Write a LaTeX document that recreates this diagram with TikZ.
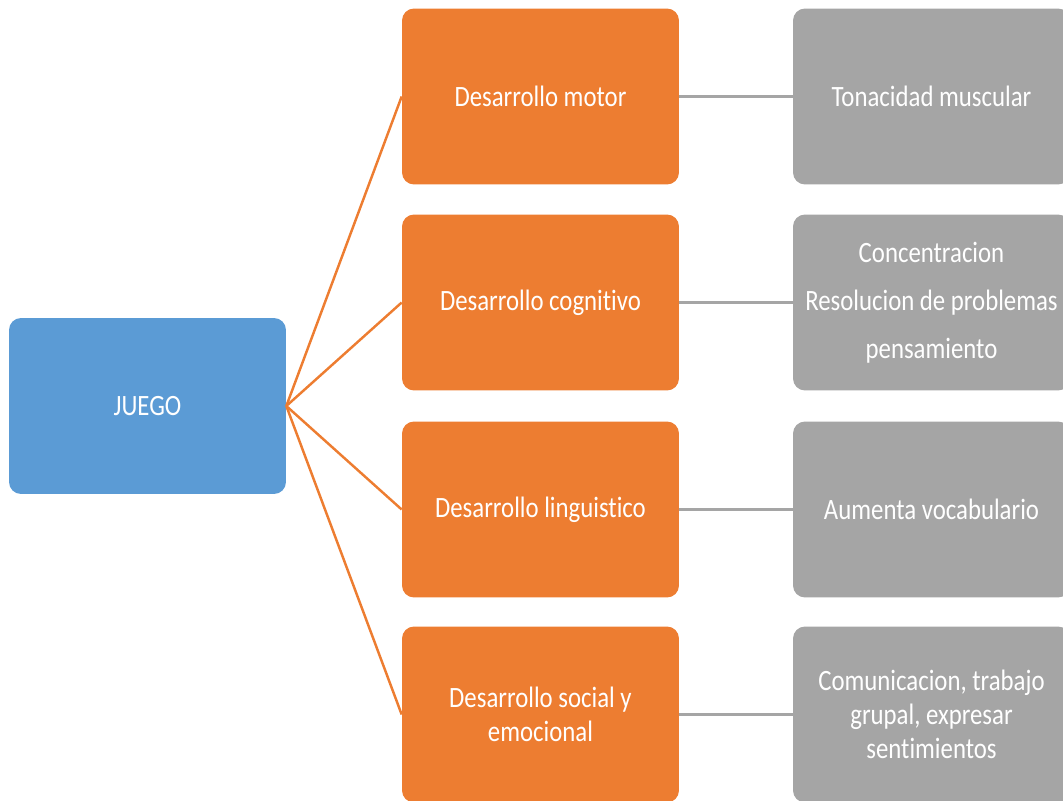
\documentclass[tikz,border=0pt]{standalone}
\usepackage{fontspec}
\setmainfont[FakeStretch=0.84,Ligatures=NoCommon]{Carlito}
\definecolor{jblue}{HTML}{5B9BD5}
\definecolor{jorange}{HTML}{ED7D31}
\definecolor{jgrey}{HTML}{A5A5A5}
\begin{document}
\begin{tikzpicture}[x=0.02cm,y=-0.02cm,
  boxbase/.style={rounded corners=0.24cm, minimum width=5.54cm, minimum height=3.52cm, inner sep=0pt,
    text=white, align=center, font=\fontsize{16.8}{19.3}\selectfont},
  rootbox/.style={boxbase, fill=jblue},
  areabox/.style={boxbase, fill=jorange},
  itembox/.style={boxbase, fill=jgrey},
  branch/.style={draw=jorange, line width=1.4pt},
  leafline/.style={draw=jgrey, line width=1.8pt}]
\useasboundingbox (0,0) rectangle (1063,801);
\clip (0,0) rectangle (1063,801);
\node[rootbox] (juego) at (147.5,406) {JUEGO};
\node[areabox] (motor) at (540.5,96.5) {Desarrollo motor};
\node[areabox] (cogn) at (540.5,302.5) {Desarrollo cognitivo};
\node[areabox] (ling) at (540.5,509.5) {Desarrollo linguistico};
\node[areabox] (social) at (540.5,714.5) {Desarrollo social y\\emocional};
\node[itembox] (tona) at (931.5,96.5) {Tonacidad muscular};
\node[itembox, font=\fontsize{16.8}{27.2}\selectfont] (conc) at (931.5,302.5) {Concentracion\\Resolucion de problemas\\pensamiento};
\node[itembox] (vocab) at (931.5,509.5) {Aumenta vocabulario};
\node[itembox] (comu) at (931.5,714.5) {Comunicacion, trabajo\\grupal, expresar\\sentimientos};
\foreach \n in {motor,cogn,ling,social}
  \draw[branch] (juego.east) -- (\n.west);
\draw[leafline] (motor.east) -- (tona.west);
\draw[leafline] (cogn.east) -- (conc.west);
\draw[leafline] (ling.east) -- (vocab.west);
\draw[leafline] (social.east) -- (comu.west);
\end{tikzpicture}
\end{document}
